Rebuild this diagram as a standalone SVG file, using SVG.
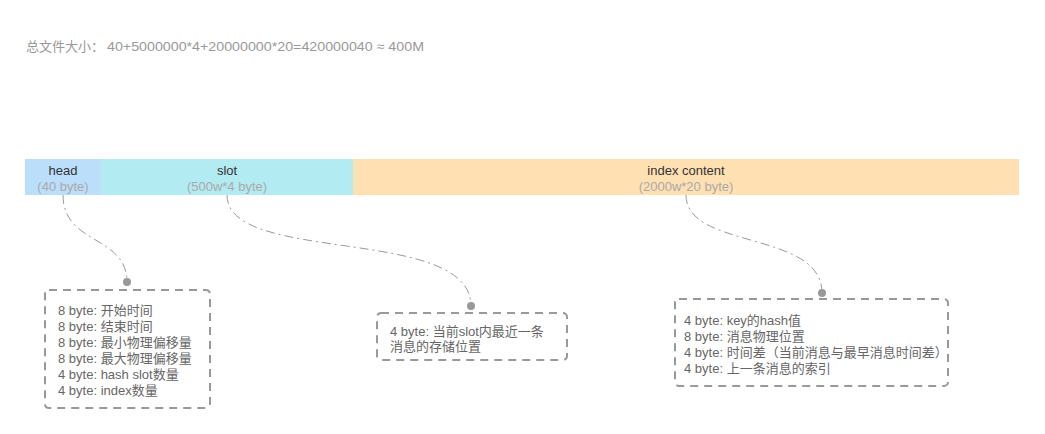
<svg xmlns="http://www.w3.org/2000/svg" width="1045" height="434" viewBox="0 0 1045 434">
<style>
text{font-family:"Liberation Sans","Noto Sans CJK SC",sans-serif;font-size:13px}
.title{fill:#999}
.lbl{fill:#333;text-anchor:middle}
.sub{fill:#aaa;text-anchor:middle}
.t{fill:#666}
.box{fill:none;stroke:#999;stroke-width:2;stroke-dasharray:8 6}
.conn{fill:none;stroke:#999;stroke-width:1;stroke-dasharray:9 4 2 4}
.dot{fill:#999}
</style>
<rect width="1045" height="434" fill="#fff"/>
<g id="title">
<text class="title" x="26" y="51">总文件大小：</text>
<text class="title" x="107" y="51" textLength="317" lengthAdjust="spacingAndGlyphs">40+5000000*4+20000000*20=420000040 ≈ 400M</text>
</g>
<g id="head">
<rect x="25" y="159" width="76" height="36" fill="#bbdefb"/>
<text class="lbl" x="63" y="175">head</text>
<text class="sub" x="63" y="191">(40 byte)</text>
</g>
<g id="slot">
<rect x="101" y="159" width="252" height="36" fill="#b2ebf2"/>
<text class="lbl" x="227" y="175">slot</text>
<text class="sub" x="227" y="191">(500w*4 byte)</text>
</g>
<g id="index">
<rect x="353" y="159" width="666" height="36" fill="#ffe0b2"/>
<text class="lbl" x="686" y="175">index content</text>
<text class="sub" x="686" y="191">(2000w*20 byte)</text>
</g>
<g id="connectors">
<path class="conn" d="M63,195 C63,245 127,235 127,282"/>
<path class="conn" d="M227,195 C227,265 471,225 471,306"/>
<path class="conn" d="M686,195 C686,250 822,230 822,293"/>
<circle class="dot" cx="127" cy="282" r="4"/>
<circle class="dot" cx="471" cy="306" r="4"/>
<circle class="dot" cx="822" cy="293" r="4"/>
</g>
<g id="box-head">
<rect class="box" x="45" y="290" width="165" height="118" rx="4"/>
<text class="t" x="58" y="315">8 byte: 开始时间</text>
<text class="t" x="58" y="331">8 byte: 结束时间</text>
<text class="t" x="58" y="347">8 byte: 最小物理偏移量</text>
<text class="t" x="58" y="363">8 byte: 最大物理偏移量</text>
<text class="t" x="58" y="379">4 byte: hash slot数量</text>
<text class="t" x="58" y="395">4 byte: index数量</text>
</g>
<g id="box-slot">
<rect class="box" x="377" y="313" width="190" height="47" rx="4"/>
<text class="t" x="390" y="336">4 byte: 当前slot内最近一条</text>
<text class="t" x="390" y="351">消息的存储位置</text>
</g>
<g id="box-index">
<rect class="box" x="675" y="299" width="273" height="87" rx="4"/>
<text class="t" x="684" y="325">4 byte: key的hash值</text>
<text class="t" x="684" y="341">8 byte: 消息物理位置</text>
<text class="t" x="684" y="357">4 byte: 时间差（当前消息与最早消息时间差）</text>
<text class="t" x="684" y="373">4 byte: 上一条消息的索引</text>
</g>
</svg>
